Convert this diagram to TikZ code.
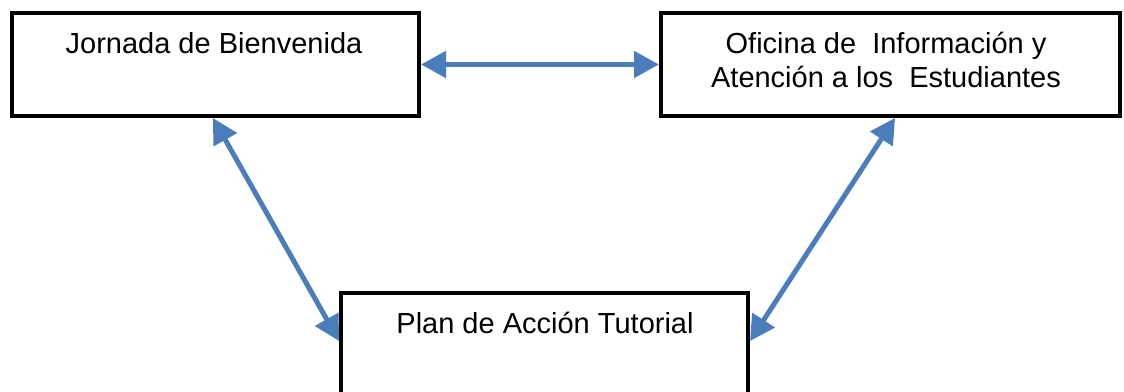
\documentclass[tikz,border=0pt]{standalone}
\usepackage{fontspec}
\setmainfont{Liberation Sans}
\usetikzlibrary{arrows.meta}
\definecolor{arrowblue}{RGB}{74,126,187}
\begin{document}
\begin{tikzpicture}[x=1pt,y=-1pt,
  box/.style={draw=black,line width=4pt,fill=white,rectangle,inner sep=0pt},
  lbl/.style={anchor=base,inner sep=0pt,font=\fontsize{29}{34}\selectfont,align=center},
  link/.style={draw=arrowblue,line width=5pt,{Triangle[length=25pt,width=26pt]}-{Triangle[length=25pt,width=26pt]}}]
\useasboundingbox (0,0) rectangle (1124,391);
\node[box,minimum width=407pt,minimum height=103pt] (b1) at (215.5,64.5) {};
\node[box,minimum width=459pt,minimum height=103pt] (b2) at (890.5,64.5) {};
\node[box,minimum width=407pt,minimum height=120pt] (b3) at (544.5,353) {};
\node[lbl] (t1) at (214,53) {Jornada de Bienvenida};
\node[lbl,anchor=base] (t2) at (886,53) {Oficina de\ \ Información y};
\node[lbl,anchor=base] (t2b) at (886,87) {Atención a los\ \ Estudiantes};
\node[lbl] (t3) at (545,333) {Plan de Acción Tutorial};
\draw[link] (b1.east) -- (b2.west);
\draw[link] ([xshift=203pt]b1.south west) -- ([yshift=-50pt]b3.north west);
\draw[link] ([xshift=236pt]b2.south west) -- ([yshift=-50pt]b3.north east);
\end{tikzpicture}
\end{document}
